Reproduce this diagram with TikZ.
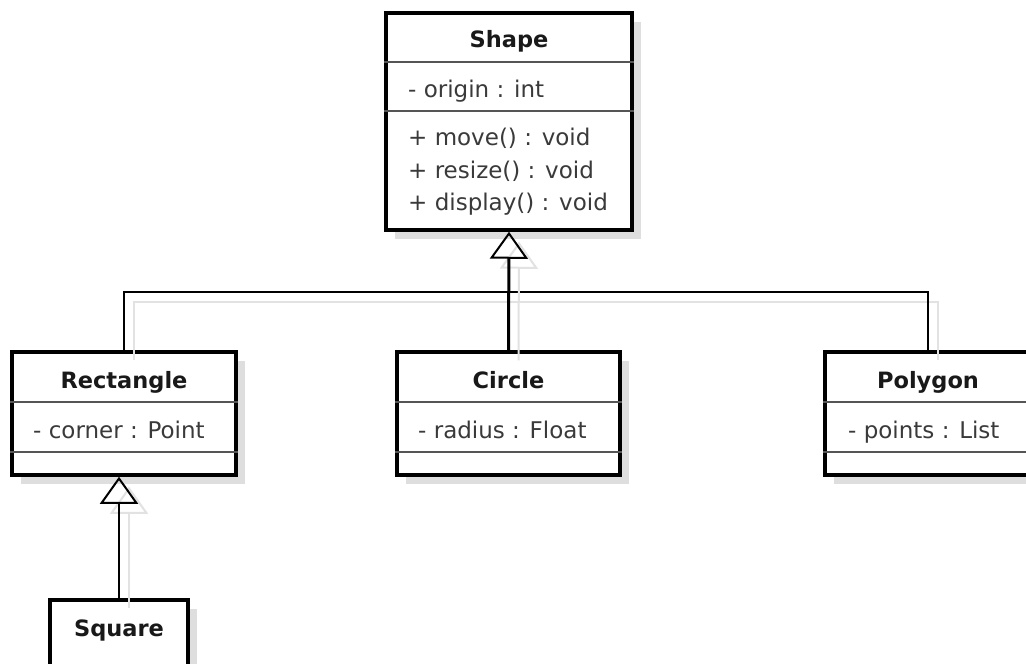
\documentclass[tikz,border=0pt]{standalone}
\usepackage{fontspec}
\setmainfont{DejaVu Sans}
\usetikzlibrary{arrows.meta,shadows}
\definecolor{shadowgray}{HTML}{DEDEDE}
\definecolor{lineshadow}{HTML}{E2E2E2}
\definecolor{textgray}{HTML}{3A3A3A}
\definecolor{divgray}{HTML}{555555}
\tikzset{
  classbox/.style={draw=black, line width=3.5pt, fill=white, rectangle, inner sep=0pt,
    drop shadow={shadow xshift=9pt, shadow yshift=-9pt, fill=shadowgray, opacity=1}},
  divider/.style={draw=divgray, line width=1.6pt},
  title/.style={font=\fontsize{22.5}{26}\selectfont\bfseries, text=black!90, inner sep=0pt, anchor=base},
  member/.style={font=\fontsize{23}{26}\selectfont, text=textgray, inner sep=0pt, anchor=base west},
  lnk/.style={draw=black, line width=2.2pt,
    preaction={draw=lineshadow, line width=2pt, transform canvas={shift={(10pt,-10pt)}}}},
  inh/.style={lnk, -{Triangle[open, length=27pt, width=38pt, line width=2pt]}},
}
\begin{document}
\begin{tikzpicture}[x=1pt,y=-1pt]
\useasboundingbox (0,0) rectangle (1026,664);
\clip (0,0) rectangle (1026,664);
\fill[white] (0,0) rectangle (1026,664);

% Shape
\node[classbox, minimum width=246pt, minimum height=217pt] (shape) at (509,121.5) {};
\draw[divider] (shape.west |- 0,62) -- (shape.east |- 0,62);
\draw[divider] (shape.west |- 0,111) -- (shape.east |- 0,111);
\node[title] (shapet) at (509,47) {Shape};
\node[member] (shapea) at (408,97) {- origin : int};
\node[member] (shapem1) at (408,145) {+ move() : void};
\node[member] (shapem2) at (408,178) {+ resize() : void};
\node[member] (shapem3) at (408,210) {+ display() : void};

% Rectangle
\node[classbox, minimum width=224pt, minimum height=123pt] (rect) at (124,413.5) {};
\draw[divider] (rect.west |- 0,402) -- (rect.east |- 0,402);
\draw[divider] (rect.west |- 0,452) -- (rect.east |- 0,452);
\node[title] (rectt) at (124,388) {Rectangle};
\node[member] (recta) at (33,438) {- corner : Point};

% Circle
\node[classbox, minimum width=223pt, minimum height=123pt] (circ) at (508.5,413.5) {};
\draw[divider] (circ.west |- 0,402) -- (circ.east |- 0,402);
\draw[divider] (circ.west |- 0,452) -- (circ.east |- 0,452);
\node[title] (circt) at (508.5,388) {Circle};
\node[member] (circa) at (418,438) {- radius : Float};

% Polygon
\node[classbox, minimum width=206pt, minimum height=123pt] (poly) at (928,413.5) {};
\draw[divider] (poly.west |- 0,402) -- (poly.east |- 0,402);
\draw[divider] (poly.west |- 0,452) -- (poly.east |- 0,452);
\node[title] (polyt) at (928,388) {Polygon};
\node[member] (polya) at (848,438) {- points : List};

% Square
\node[classbox, minimum width=138pt, minimum height=90pt] (sq) at (119,645) {};
\node[title] (sqt) at (119,636) {Square};

% connectors
\coordinate (hub) at (508.5,292);
\draw[lnk] (rect.north) |- (hub) -| (poly.north);
\draw[inh, line width=3pt] (circ.north) -- (shape.south);
\draw[inh] (sq.north) -- (sq.north |- rect.south);
\end{tikzpicture}
\end{document}
